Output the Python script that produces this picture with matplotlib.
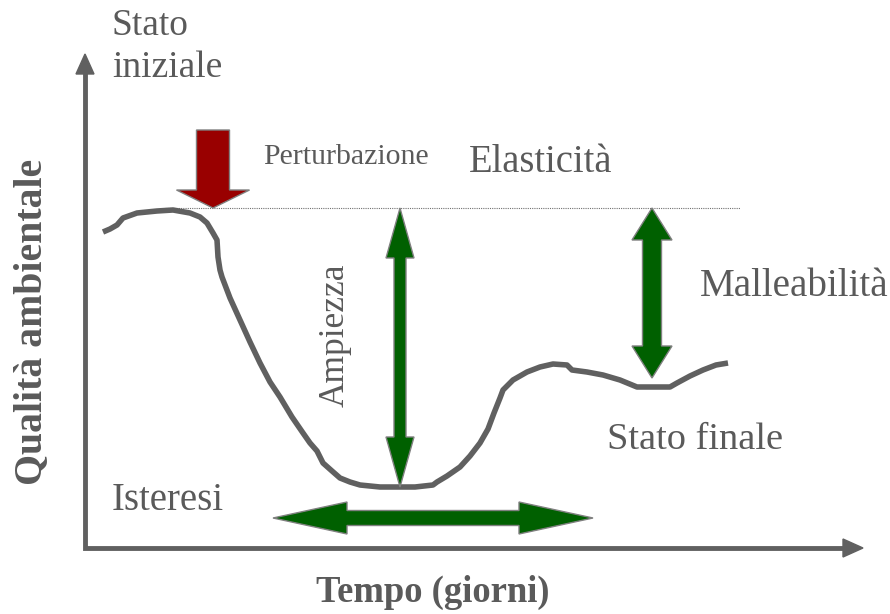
import matplotlib
matplotlib.use("Agg")
import matplotlib.pyplot as plt
from matplotlib.patches import FancyArrow, Polygon

# curve (x = time, y = level, in picture units, y grows downward)
curve_x = [103, 110, 117, 123, 137, 157, 173, 190, 200, 207, 213, 217, 218, 220, 222,
           230, 240, 250, 260, 270, 280, 292, 303, 310, 317, 323, 332, 340, 350, 360,
           380, 397, 415, 433, 437, 447, 460, 470, 480, 488, 494, 500, 503, 513, 527,
           540, 553, 567, 572, 587, 603, 620, 637, 655, 670, 677, 690, 703, 716, 728]
curve_y = [232, 229, 225, 218, 213, 211, 210, 213, 217, 223, 233, 240, 257, 270, 277,
           298, 320, 342, 363, 382, 397, 417, 433, 443, 451, 463, 471, 478, 482, 485,
           487, 487, 487, 485, 482, 476, 467, 456, 443, 429, 413, 398, 390, 380, 372,
           367, 364, 365, 370, 372, 375, 380, 387, 387, 387, 383, 376, 370, 365, 363]

reference_level = 208
baseline_x = [165, 740]
ampiezza_x, ampiezza_bottom = 400, 487
malle_x, malle_bottom = 652, 378
isteresi_y, isteresi_left, isteresi_right = 518, 273, 593

txt = "#5a5a5a"
axis_col = "#606060"
green = "#006000"
red = "#990000"
serif = "Liberation Serif"


def double_arrow(ax, p0, p1, shaft, head_w, head_l, color):
    # block arrow with a head on each end
    (x0, y0), (x1, y1) = p0, p1
    length = ((x1 - x0) ** 2 + (y1 - y0) ** 2) ** 0.5
    ux, uy = (x1 - x0) / length, (y1 - y0) / length
    nx, ny = -uy, ux
    pts = []
    for d, w in [(0, 0), (head_l, head_w / 2), (head_l, shaft / 2),
                 (length - head_l, shaft / 2), (length - head_l, head_w / 2),
                 (length, 0), (length - head_l, -head_w / 2),
                 (length - head_l, -shaft / 2), (head_l, -shaft / 2),
                 (head_l, -head_w / 2)]:
        pts.append((x0 + ux * d + nx * w, y0 + uy * d + ny * w))
    ax.add_patch(Polygon(pts, closed=True, facecolor=color, edgecolor="#808080",
                         lw=1, zorder=4))


fig = plt.figure(figsize=(8.9, 6.14), dpi=100)
ax = fig.add_axes([0, 0, 1, 1])
ax.set_xlim(0, 890)
ax.set_ylim(614, 0)
ax.axis("off")

# axes with arrowheads
ax.plot([85, 85, 850], [75, 548, 548], color=axis_col, lw=3.5, solid_joinstyle="miter",
        zorder=2)
ax.add_patch(FancyArrow(85, 80, 0, -26, width=0.1, head_width=18, head_length=20,
                        length_includes_head=True, color=axis_col, zorder=2))
ax.add_patch(FancyArrow(845, 548, 18, 0, width=0.1, head_width=18, head_length=20,
                        length_includes_head=True, color=axis_col, zorder=2))

# reference level
ax.plot(baseline_x, [reference_level] * 2, color="#707070", lw=0.8, ls=(0, (1, 1)),
        zorder=1)

# quality curve
ax.plot(curve_x, curve_y, color="#606060", lw=4, solid_capstyle="butt",
        solid_joinstyle="round", zorder=3)

# perturbation arrow
ax.add_patch(FancyArrow(213, 130, 0, reference_level - 130, width=33, head_width=73,
                        head_length=18, length_includes_head=True, facecolor=red,
                        edgecolor="#808080", lw=1, zorder=4))

double_arrow(ax, (ampiezza_x, reference_level), (ampiezza_x, ampiezza_bottom),
             12, 28, 50, green)
double_arrow(ax, (malle_x, reference_level), (malle_x, malle_bottom),
             19, 40, 32, green)
double_arrow(ax, (isteresi_left, isteresi_y), (isteresi_right, isteresi_y),
             15, 32, 74, green)

ax.text(112, 47, "Stato\niniziale", fontsize=27, family=serif, color=txt,
        ha="left", va="center", linespacing=1.3)
ax.text(263, 157, "Perturbazione", fontsize=21.5, family=serif, color=txt,
        ha="left", va="center")
ax.text(469, 162, "Elasticità", fontsize=27.8, family=serif, color=txt,
        ha="left", va="center")
ax.text(700, 286, "Malleabilità", fontsize=28.2, family=serif, color=txt,
        ha="left", va="center")
ax.text(335, 335, "Ampiezza", fontsize=25.5, family=serif, color=txt,
        ha="center", va="center", rotation=90)
ax.text(607, 440, "Stato finale", fontsize=27.6, family=serif, color=txt,
        ha="left", va="center")
ax.text(112, 500, "Isteresi", fontsize=28, family=serif, color=txt,
        ha="left", va="center")
ax.text(433, 592, "Tempo (giorni)", fontsize=26.4, family=serif, color=txt,
        fontweight="bold", ha="center", va="center")
ax.text(32, 322, "Qualità ambientale", fontsize=28.6, family=serif, color=txt,
        fontweight="bold", ha="center", va="center", rotation=90)

fig.savefig("out.png", dpi=100, facecolor="white")
